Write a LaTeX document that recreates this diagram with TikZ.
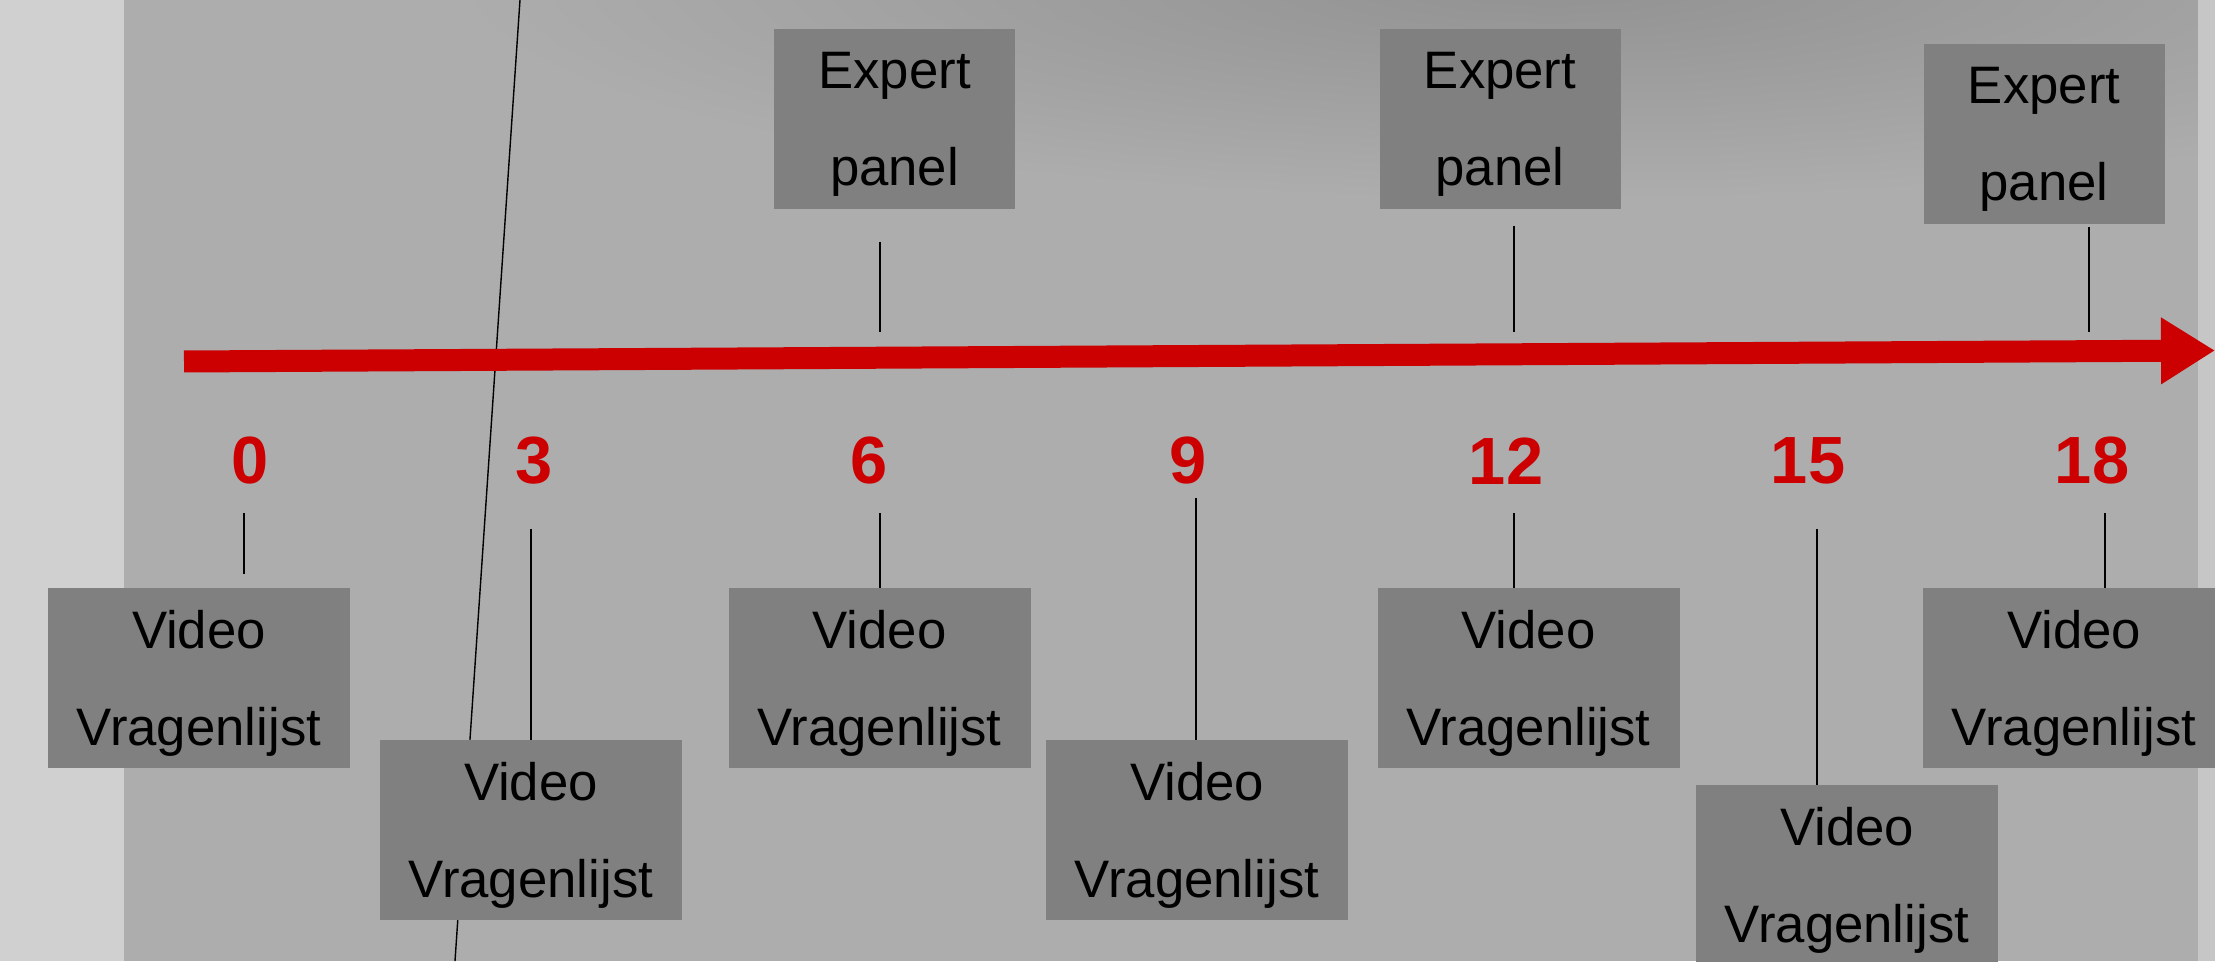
\documentclass[tikz,border=0pt]{standalone}
\usepackage{fontspec}
\setmainfont{Liberation Sans}
\usetikzlibrary{arrows.meta}

\definecolor{achtergrond}{HTML}{ADADAD}
\definecolor{randgrijs}{HTML}{D0D0D0}
\definecolor{vakgrijs}{HTML}{808080}
\definecolor{tijdrood}{HTML}{CC0000}

\tikzset{
    vak/.style={fill=vakgrijs, inner sep=0pt, align=center, text=black,
        text depth=-0.8pt, font={\fontsize{15}{27.5}\selectfont}},
    meetvak/.style={vak, minimum width=3.02cm, minimum height=1.8cm},
    expertvak/.style={vak, minimum width=2.41cm, minimum height=1.8cm},
    maand/.style={text=tijdrood, font={\fontsize{19}{22}\selectfont\bfseries}},
    streep/.style={draw=black, line width=0.5pt}
}

\begin{document}
\begin{tikzpicture}
    \pgfmathsetmacro{\breedte}{22.15}
    \pgfmathsetmacro{\hoogte}{9.61}
    \useasboundingbox (0,0) rectangle (\breedte,\hoogte);
    \clip (0,0) rectangle (\breedte,\hoogte);
    %% achtergrond (vage foto)
    \fill[achtergrond] (0,0) rectangle (\breedte,\hoogte);
    \shade[inner color=achtergrond!84!black, outer color=achtergrond]
        (15.5,9.8) ellipse (11 and 2.2);
    \fill[randgrijs] (0,0) rectangle (1.24,\hoogte);
    \fill[randgrijs!70!achtergrond] (21.98,0) rectangle (\breedte,\hoogte);
    \coordinate (Lboven) at (5.20,\hoogte);
    \coordinate (Londer) at (4.55,0);
    \draw[black, line width=0.4pt] (Lboven) -- (Londer);

    %% tijdlijn
    \coordinate (Tbegin) at (1.84,5.995);
    \coordinate (Teind) at (\breedte,6.105);
    \draw[tijdrood, line width=0.22cm, -{Triangle[length=0.54cm,width=0.63cm]}]
        (Tbegin) -- (Teind);

    \foreach \m/\x in
    {0/2.50, 3/5.34, 6/8.69, 9/11.88, 12/15.06, 15/18.08, 18/20.92}
    {
        \node[maand] (M\m) at (\x,5.00) {\m};
    };

    %% metingen onder de lijn
    \foreach \m/\bx/\by/\sx/\ya/\yb in
    {0/1.99/2.83/2.44/4.48/3.87,
        3/5.31/1.31/5.31/4.32/2.21,
        6/8.795/2.83/8.80/4.48/3.73,
        9/11.97/1.31/11.96/4.63/2.21,
        12/15.285/2.83/15.14/4.48/3.73,
        15/18.47/0.86/18.17/4.32/1.76,
        18/20.74/2.83/21.05/4.48/3.73
    }
    {
        \node[meetvak] (V\m) at (\bx,\by) {Video\\Vragenlijst};
        \coordinate (Vs\m) at (\sx,\ya);
        \coordinate (Ve\m) at (\sx,\yb);
        \draw[streep] (Vs\m) -- (Ve\m);
    };

    %% expert panels boven de lijn
    \foreach \m/\bx/\by/\sx/\ya in
    {6/8.945/8.42/8.80/7.19,
        12/15.00/8.42/15.14/7.35,
        18/20.44/8.27/20.89/7.34
    }
    {
        \node[expertvak] (E\m) at (\bx,\by) {Expert\\panel};
        \coordinate (Es\m) at (\sx,\ya);
        \coordinate (Ee\m) at (\sx,6.29);
        \draw[streep] (Es\m) -- (Ee\m);
    };
\end{tikzpicture}
\end{document}
